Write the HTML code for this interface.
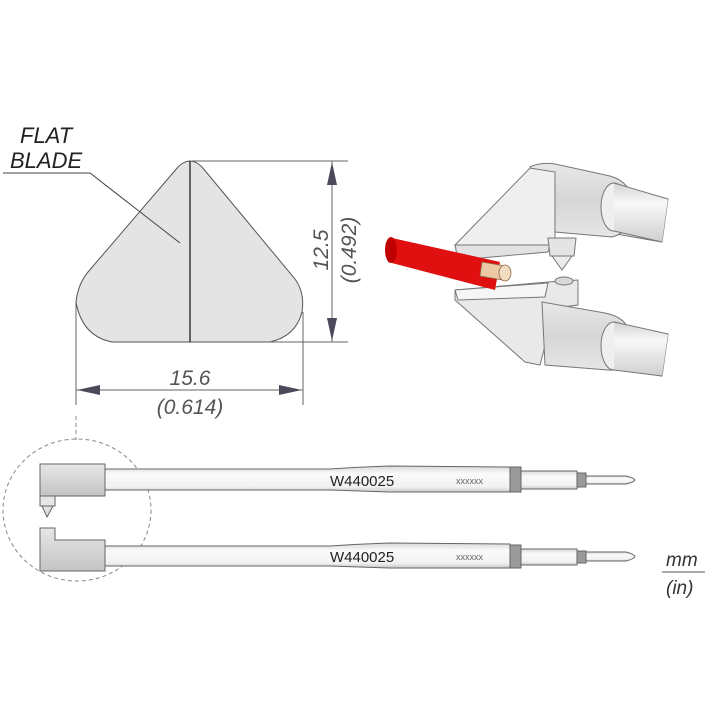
<!DOCTYPE html>
<html><head><meta charset="utf-8"><style>
html,body{margin:0;padding:0;background:#fff;}
svg{display:block;}
text{font-family:"Liberation Sans",sans-serif;}
</style></head><body>
<svg width="713" height="713" viewBox="0 0 713 713" xmlns="http://www.w3.org/2000/svg">
<defs>
<linearGradient id="sh" x1="0" y1="0" x2="0" y2="1"><stop offset="0" stop-color="#d8d8d8"/><stop offset="0.3" stop-color="#fafafa"/><stop offset="0.8" stop-color="#f2f2f2"/><stop offset="1" stop-color="#c8c8c8"/></linearGradient>
<linearGradient id="hd" x1="0" y1="0" x2="0" y2="1"><stop offset="0" stop-color="#e6e6e6"/><stop offset="1" stop-color="#c4c4c4"/></linearGradient>
<linearGradient id="cy" x1="0" y1="0" x2="0" y2="1"><stop offset="0" stop-color="#d4d4d4"/><stop offset="0.35" stop-color="#f8f8f8"/><stop offset="1" stop-color="#cfcfcf"/></linearGradient>
<linearGradient id="bs" x1="0" y1="0" x2="0" y2="1"><stop offset="0" stop-color="#e8e8e8"/><stop offset="0.5" stop-color="#d6d6d6"/><stop offset="1" stop-color="#e6e6e6"/></linearGradient>
</defs>
<!-- blade cross-section -->
<path d="M178,167 Q190,155 202,167 L295,279 Q305,293 302,312 Q296,336 270,342 L112,342 Q82,336 76,302 Q78,284 88,272 Z" fill="#e4e4e4" stroke="#555" stroke-width="1"/>
<line x1="190" y1="161" x2="190" y2="342" stroke="#111" stroke-width="1.2"/>
<polyline points="3,173 90,173 180,243" fill="none" stroke="#444" stroke-width="1"/>
<text x="20" y="143" font-size="22" font-style="italic" fill="#222">FLAT</text>
<text x="10" y="168" font-size="22" font-style="italic" fill="#222">BLADE</text>
<g stroke="#666" stroke-width="1" fill="none">
<line x1="192" y1="161" x2="348" y2="161"/>
<line x1="270" y1="342" x2="348" y2="342"/>
<line x1="332" y1="161" x2="332" y2="342"/>
<line x1="76" y1="302" x2="76" y2="405"/>
<line x1="303" y1="312" x2="303" y2="405"/>
<line x1="76" y1="390" x2="303" y2="390"/>
</g>
<g fill="#4a4a5a">
<polygon points="332,162 327,185 337,185"/>
<polygon points="332,341 327,318 337,318"/>
<polygon points="77,390 100,385 100,395"/>
<polygon points="302,390 279,385 279,395"/>
</g>
<text transform="translate(328,250) rotate(-90)" text-anchor="middle" font-size="21" font-style="italic" fill="#555">12.5</text>
<text transform="translate(356,250) rotate(-90)" text-anchor="middle" font-size="21" font-style="italic" fill="#555">(0.492)</text>
<text x="190" y="385" text-anchor="middle" font-size="21" font-style="italic" fill="#555">15.6</text>
<text x="190" y="414" text-anchor="middle" font-size="21" font-style="italic" fill="#555">(0.614)</text>

<!-- 3D illustration upper -->
<g stroke="#777" stroke-width="1">
<path d="M610,190 L668,199 L662,242 L610,233 Z" fill="url(#cy)"/>
<path d="M530,167 Q540,162 555,164 L610,176 Q632,182 632,205 Q632,232 612,237 L555,232 Z" fill="url(#bs)"/>
<ellipse cx="614" cy="207" rx="13" ry="24" fill="#efefef"/>
<path d="M614,183 L668,199 L662,242 L614,231" fill="url(#cy)" stroke="none"/>
<path d="M614,183 L668,199 M662,242 L614,231" fill="none"/>
<path d="M455,245 L530,168 L555,172 L555,245 Z" fill="#efefef"/>
<path d="M455,245 L550,245 L548,252 L458,260 Z" fill="#e2e2e2"/>
<path d="M548,238 L576,238 L574,256 L550,256 Z" fill="#e4e4e4"/>
<polygon points="552,256 572,256 562,270" fill="#ebebeb"/>
<!-- lower -->
<path d="M610,325 L668,334 L662,376 L610,368 Z" fill="url(#cy)"/>
<path d="M455,290 L548,282 L578,280 L578,305 L555,308 L540,365 L525,362 L455,300 Z" fill="#e9e9e9"/>
<path d="M455,290 L548,283 L545,297 L458,300 Z" fill="#f6f6f6"/>
<path d="M542,302 L605,313 Q632,318 632,345 Q630,372 608,370 L545,365 Z" fill="url(#bs)"/>
<ellipse cx="614" cy="346" rx="13" ry="24" fill="#efefef"/>
<path d="M614,322 L668,334 L662,376 L614,370" fill="url(#cy)" stroke="none"/>
<path d="M614,322 L668,334 M662,376 L614,370" fill="none"/>
<ellipse cx="564" cy="281" rx="9" ry="4" fill="#d8d8d8"/>
</g>
<!-- wire -->
<path d="M392,238 L500,262 L495,290 L388,262 Z" fill="#e01010"/>
<ellipse cx="391" cy="250" rx="6" ry="13" fill="#c00000"/>
<path d="M482,262 L505,266 L503,280 L480,276 Z" fill="#ecc9a4" stroke="#8a6a4a" stroke-width="0.8"/>
<ellipse cx="505" cy="273" rx="6" ry="8" fill="#f4dcc0" stroke="#8a6a4a" stroke-width="0.8"/>

<ellipse cx="77" cy="510" rx="74" ry="71" fill="none" stroke="#888" stroke-width="1" stroke-dasharray="4,3"/>
<line x1="76" y1="416" x2="76" y2="440" stroke="#888" stroke-width="1" stroke-dasharray="4,3"/>

<g stroke="#666" stroke-width="1">
<path d="M105,469 L330,469 Q360,467 390,466 L510,467 L510,492 L390,492 Q360,491 330,490 L105,490 Z" fill="url(#sh)"/>
<rect x="510" y="467" width="11" height="25" fill="#9a9a9a"/>
<rect x="521" y="471" width="56" height="18" fill="url(#sh)"/>
<rect x="577" y="473" width="9" height="14" fill="#9a9a9a"/>
<path d="M586,476 L626,476 Q634,478 635,480 Q634,482 626,484 L586,484 Z" fill="url(#sh)"/>
<rect x="40" y="464" width="65" height="32" fill="url(#hd)"/>
<rect x="40" y="496" width="15" height="10" fill="#e6e6e6"/>
<polygon points="42,506 53,506 47,517" fill="#e0e0e0"/>
</g>
<g stroke="#666" stroke-width="1">
<path d="M105,546 L330,546 Q360,544 390,543 L510,544 L510,568 L390,568 Q360,567 330,566 L105,566 Z" fill="url(#sh)"/>
<rect x="510" y="545" width="11" height="23" fill="#9a9a9a"/>
<rect x="521" y="549" width="56" height="16" fill="url(#sh)"/>
<rect x="577" y="551" width="9" height="12" fill="#9a9a9a"/>
<path d="M586,552 L626,552 Q634,554 635,556.5 Q634,559 626,561 L586,561 Z" fill="url(#sh)"/>
<path d="M40,528 L55,528 L55,540 L105,540 L105,571 L40,571 Z" fill="url(#hd)"/>
</g>
<text x="330" y="486" font-size="15" fill="#222">W440025</text>
<text x="330" y="562" font-size="15" fill="#222">W440025</text>
<text x="456" y="484" font-size="9" fill="#666">xxxxxx</text>
<text x="456" y="560" font-size="9" fill="#666">xxxxxx</text>

<text x="666" y="566" font-size="19" font-style="italic" fill="#333">mm</text>
<line x1="662" y1="572" x2="705" y2="572" stroke="#555" stroke-width="1"/>
<text x="666" y="594" font-size="19" font-style="italic" fill="#333">(in)</text>
</svg>
</body></html>
